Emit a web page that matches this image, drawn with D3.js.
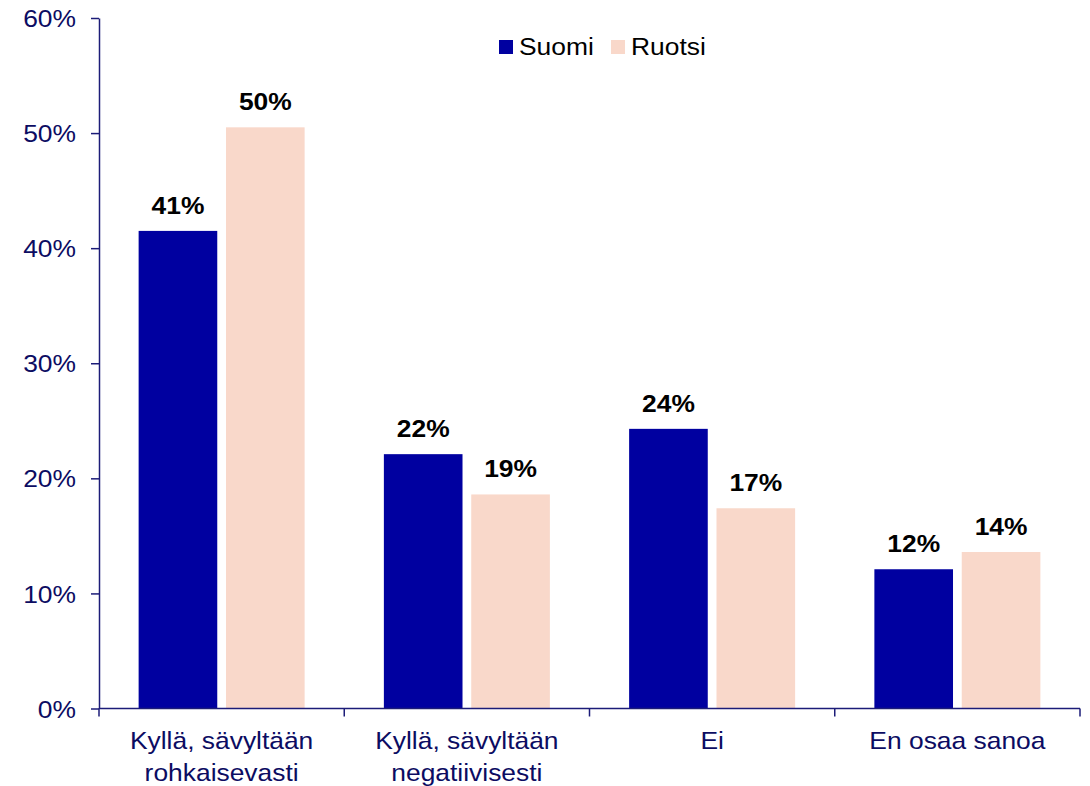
<!DOCTYPE html>
<html>
<head>
<meta charset="utf-8">
<script src="https://cdn.jsdelivr.net/npm/d3@7/dist/d3.min.js"></script>
<style>
	body { margin: 0; background: #fff; }
	text { font-family: Arial, "Liberation Sans", sans-serif; }
</style>
</head>
<body>
<div id="chartContainer"></div>
<script>
// Data
var categories = [
	['Kyllä, sävyltään', 'rohkaisevasti'],
	['Kyllä, sävyltään', 'negatiivisesti'],
	['Ei'],
	['En osaa sanoa']
];
var series_names = ['Suomi', 'Ruotsi'];
var suomi_values = [0.415, 0.221, 0.243, 0.121];
var ruotsi_values = [0.505, 0.186, 0.174, 0.136];
var suomi_labels = ['41%', '22%', '24%', '12%'];
var ruotsi_labels = ['50%', '19%', '17%', '14%'];
var y_ticks = [0, 0.1, 0.2, 0.3, 0.4, 0.5, 0.6];

var colors = ['#0000A0', '#F9D8CA'];
var axis_color = '#1c1c78';
var text_color = '#0c0c62';
var stretch = 1.1; // text in the picture is a little wider than Arial

var total_width = 1090;
var total_height = 786;
var plot = { left: 99, right: 1080, top: 18, bottom: 708.5 };

var svg = d3.select('#chartContainer')
	.append('svg')
	.attr('width', total_width)
	.attr('height', total_height);

// Scales
var x_scale = d3.scaleBand()
	.domain(d3.range(categories.length))
	.range([plot.left, plot.right]);
var group_width = 166;
var x_inner = d3.scaleBand()
	.domain(series_names)
	.range([0, group_width])
	.paddingInner(0.1);
var y_scale = d3.scaleLinear()
	.domain([0, 0.6])
	.range([plot.bottom, plot.top]);

// Bars
var rows = [];
for (var i = 0; i < categories.length; i++) {
	rows.push({ cat: i, name: 'Suomi', value: suomi_values[i], label: suomi_labels[i] });
	rows.push({ cat: i, name: 'Ruotsi', value: ruotsi_values[i], label: ruotsi_labels[i] });
}
function bar_x(d) {
	return x_scale(d.cat) + (x_scale.bandwidth() - group_width) / 2 + x_inner(d.name);
}

svg.selectAll('.bar')
	.data(rows)
	.enter()
	.append('rect')
	.attr('class', 'bar')
	.attr('x', bar_x)
	.attr('y', function(d) { return y_scale(d.value); })
	.attr('width', x_inner.bandwidth())
	.attr('height', function(d) { return plot.bottom - y_scale(d.value); })
	.attr('fill', function(d) { return colors[series_names.indexOf(d.name)]; });

// Value labels
svg.selectAll('.valuelabel')
	.data(rows)
	.enter()
	.append('text')
	.attr('class', 'valuelabel')
	.attr('transform', function(d) {
		return 'translate(' + (bar_x(d) + x_inner.bandwidth() / 2) + ',' + (y_scale(d.value) - 17) + ') scale(' + stretch + ',1)';
	})
	.attr('text-anchor', 'middle')
	.attr('font-size', '24px')
	.attr('font-weight', 'bold')
	.attr('fill', '#000')
	.text(function(d) { return d.label; });

// Y-Axis
var y_axis = svg.append('g')
	.attr('transform', 'translate(' + plot.left + ',0)')
	.call(d3.axisLeft(y_scale).tickValues(y_ticks).tickFormat(d3.format('.0%')).tickSize(8).tickSizeOuter(0));
y_axis.select('.domain').attr('stroke', axis_color).attr('stroke-width', 1.5);
y_axis.selectAll('.tick line').attr('stroke', axis_color).attr('stroke-width', 1.5);
y_axis.selectAll('.tick text')
	.attr('x', null)
	.attr('dy', '0.36em')
	.attr('transform', 'translate(-23,0) scale(' + stretch + ',1)')
	.attr('fill', text_color)
	.attr('font-size', '24px')
	.attr('font-family', 'Arial, "Liberation Sans", sans-serif');

// X-Axis: line plus ticks on the category boundaries
var x_axis = svg.append('g').attr('class', 'xaxis');
x_axis.append('line')
	.attr('x1', plot.left)
	.attr('x2', plot.right)
	.attr('y1', plot.bottom)
	.attr('y2', plot.bottom)
	.attr('stroke', axis_color)
	.attr('stroke-width', 1.5);
var boundaries = d3.range(categories.length + 1);
x_axis.selectAll('.xtick')
	.data(boundaries)
	.enter()
	.append('line')
	.attr('class', 'xtick')
	.attr('x1', function(d) { return d < categories.length ? x_scale(d) : x_scale(d - 1) + x_scale.bandwidth(); })
	.attr('x2', function(d) { return d < categories.length ? x_scale(d) : x_scale(d - 1) + x_scale.bandwidth(); })
	.attr('y1', plot.bottom)
	.attr('y2', plot.bottom + 8)
	.attr('stroke', axis_color)
	.attr('stroke-width', 1.5);

// Category labels
var cat_text = svg.selectAll('.catlabel')
	.data(categories)
	.enter()
	.append('text')
	.attr('class', 'catlabel')
	.attr('transform', function(d, i) {
		return 'translate(' + (x_scale(i) + x_scale.bandwidth() / 2) + ',' + 749 + ') scale(' + stretch + ',1)';
	})
	.attr('text-anchor', 'middle')
	.attr('font-size', '24px')
	.attr('fill', text_color);
cat_text.selectAll('tspan')
	.data(function(d) { return d; })
	.enter()
	.append('tspan')
	.attr('x', 0)
	.attr('y', function(d, i) { return i * 32; })
	.text(function(d) { return d; });

// Legend
var legend_pos = [{ x: 499, tx: 519 }, { x: 611, tx: 631 }];
var legend = svg.selectAll('.legend')
	.data(series_names)
	.enter()
	.append('g')
	.attr('class', 'legend');
legend.append('rect')
	.attr('x', function(d, i) { return legend_pos[i].x; })
	.attr('y', 40)
	.attr('width', 14)
	.attr('height', 14)
	.attr('fill', function(d, i) { return colors[i]; });
legend.append('text')
	.attr('transform', function(d, i) { return 'translate(' + legend_pos[i].tx + ',55) scale(' + stretch + ',1)'; })
	.attr('font-size', '24px')
	.attr('fill', '#000')
	.text(function(d) { return d; });
</script>
</body>
</html>
